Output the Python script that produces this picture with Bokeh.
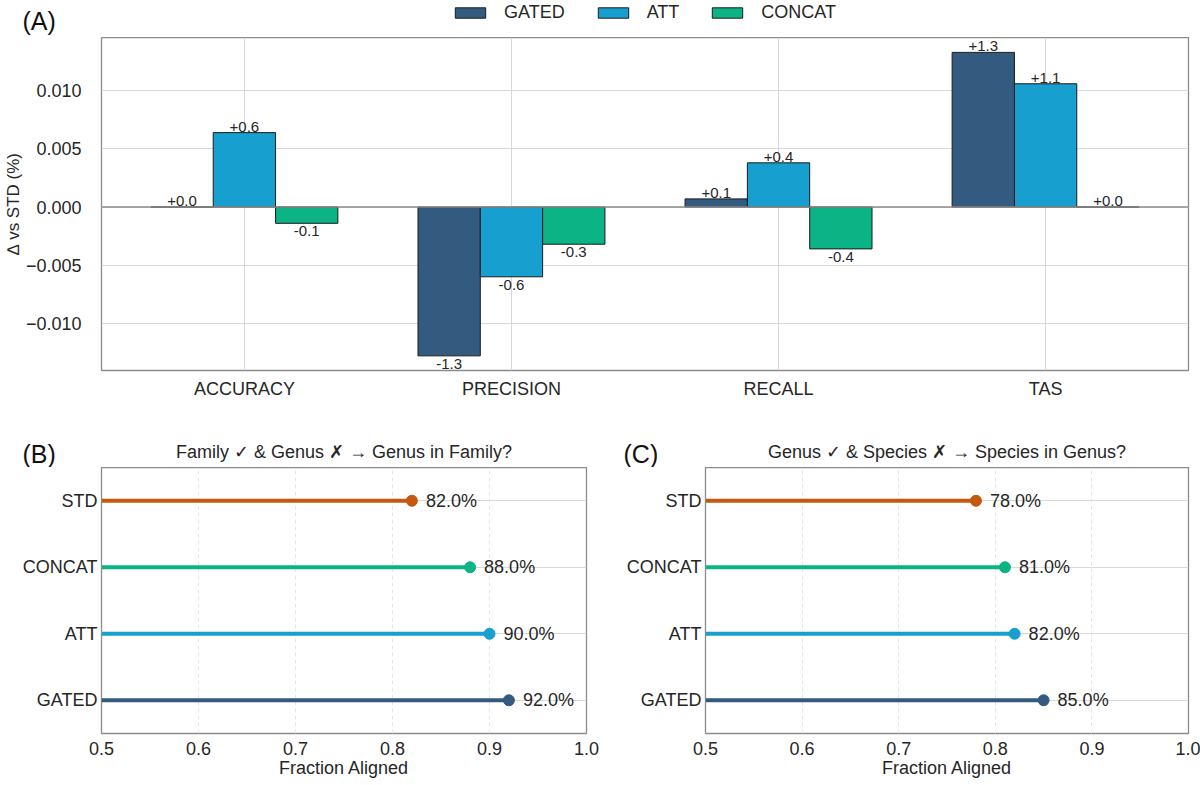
from bokeh.plotting import figure
from bokeh.models import (ColumnDataSource, FactorRange, Range1d, FixedTicker,
                          CustomJSTickFormatter, PrintfTickFormatter, Span,
                          Legend, LegendItem, Label)
from bokeh.core.properties import value
from bokeh.transform import dodge
from bokeh.layouts import column, row
from bokeh.embed import file_html
from bokeh.resources import INLINE

FONT = "Liberation Sans"
TEXT = "#262626"
FRAME = "#8c8c8c"
GRID = "#d9d9d9"

# ---- data -------------------------------------------------------------
metrics = ["ACCURACY", "PRECISION", "RECALL", "TAS"]
variants = ["GATED", "ATT", "CONCAT"]
delta_gated = [0.0000, -0.0128, 0.0007, 0.0133]
delta_att = [0.0064, -0.0060, 0.0038, 0.0106]
delta_concat = [-0.0014, -0.0032, -0.0036, 0.0000]
delta_ticks = [-0.010, -0.005, 0.0, 0.005, 0.010]

models = ["GATED", "ATT", "CONCAT", "STD"]          # bottom to top
family_aligned = [0.92, 0.90, 0.88, 0.82]
genus_aligned = [0.85, 0.82, 0.81, 0.78]
fraction_ticks = [0.5, 0.6, 0.7, 0.8, 0.9, 1.0]
fraction_floor = 0.5

colors = {"GATED": "#335b80", "ATT": "#169fcf",
          "CONCAT": "#0bb385", "STD": "#c4580e"}

TITLE_B = "Family \u2713 & Genus \u2717 \u2192 Genus in Family?"
TITLE_C = "Genus \u2713 & Species \u2717 \u2192 Species in Genus?"


def style_axes(p):
    p.outline_line_color = FRAME
    p.outline_line_width = 1.3
    for ax in (p.xaxis, p.yaxis):
        ax.axis_line_color = None
        ax.major_tick_line_color = None
        ax.minor_tick_line_color = None
        ax.major_tick_out = 0
        ax.major_label_text_font = FONT
        ax.major_label_text_font_size = "18px"
        ax.major_label_text_color = TEXT
        ax.axis_label_text_font = FONT
        ax.axis_label_text_font_style = "normal"
        ax.axis_label_text_color = TEXT


def header(height):
    """A bare strip (pixel coordinates, y downwards) for panel tags, titles, legend."""
    h = figure(width=1200, height=height, output_backend="svg", toolbar_location=None,
               x_range=Range1d(0, 1200), y_range=Range1d(height, 0),
               x_axis_type=None, y_axis_type=None,
               min_border_left=0, min_border_right=0,
               min_border_top=0, min_border_bottom=0)
    h.frame_align = False
    h.outline_line_color = None
    h.grid.visible = False
    return h


def put_text(h, x, y, text, size, align="left", color=TEXT):
    h.add_layout(Label(x=x, y=y, text=text, text_font=FONT, text_font_size=size,
                       text_color=color, text_align=align, text_baseline="middle"))


# ---- (A) grouped bars -------------------------------------------------
pA = figure(width=1200, height=383, output_backend="svg", toolbar_location=None,
            x_range=FactorRange(*metrics, range_padding=0.0175),
            y_range=Range1d(-0.01406, 0.01458),
            min_border_left=101, min_border_right=12,
            min_border_top=0, min_border_bottom=50)
style_axes(pA)
pA.xgrid.grid_line_color = GRID
pA.ygrid.grid_line_color = GRID
pA.yaxis.ticker = FixedTicker(ticks=delta_ticks)
pA.yaxis.formatter = CustomJSTickFormatter(
    code="return tick.toFixed(3).replace('-', '\u2212');")
pA.yaxis.major_label_standoff = 20
pA.xaxis.major_label_standoff = 8
pA.yaxis.axis_label = "\u2206 vs STD (%)"
pA.yaxis.axis_label_text_font_size = "17px"
pA.yaxis.axis_label_standoff = 0

bar_w = 0.7 / len(variants)
offsets = [-bar_w, 0.0, bar_w]
bar_sources = []
for name, vals, off in zip(variants, [delta_gated, delta_att, delta_concat], offsets):
    src = ColumnDataSource(dict(metric=metrics, value=vals))
    bar_sources.append(src)
    pA.vbar(x=dodge("metric", off, range=pA.x_range), top="value", bottom=0,
            width=bar_w, fill_color=colors[name], line_color="#1c1c1c",
            line_width=1, source=src)

    pos = [i for i, v in enumerate(vals) if v >= 0]
    neg = [i for i, v in enumerate(vals) if v < 0]
    for idx, base, dy in ((pos, "bottom", -1), (neg, "top", 3)):
        if not idx:
            continue
        lab = ColumnDataSource(dict(metric=[metrics[i] for i in idx],
                                    value=[vals[i] for i in idx],
                                    label=[f"{vals[i] * 100:+.1f}" for i in idx]))
        pA.text(x=dodge("metric", off, range=pA.x_range), y="value", text="label",
                source=lab, text_align="center", text_baseline=base, y_offset=dy,
                text_font=value(FONT), text_font_size="15px", text_color=TEXT)

pA.add_layout(Span(location=0, dimension="width", line_color=FRAME, line_width=1.3))

# ---- header of (A): tag and legend ------------------------------------
hA = header(37)
put_text(hA, 22, 20, "(A)", "25px", color="#111111")
items = []
for name, src in zip(variants, bar_sources):
    # legend swatches share the bar styling; the renderer itself stays hidden
    swatch = hA.vbar(x="metric", top="value", width=bar_w, source=src,
                     fill_color=colors[name], line_color="#1c1c1c", line_width=1,
                     visible=False)
    items.append(LegendItem(label=name, renderers=[swatch]))
hA.add_layout(Legend(items=items, orientation="horizontal", location=(451, 14),
                     glyph_width=38, glyph_height=13, label_standoff=15, spacing=29,
                     padding=0, margin=0, border_line_color=None,
                     background_fill_alpha=0, inactive_fill_alpha=0,
                     label_text_font=FONT, label_text_font_size="18px",
                     label_text_color=TEXT))

# ---- header of (B) and (C) --------------------------------------------
hBC = header(47)
put_text(hBC, 22, 33, "(B)", "25px", color="#111111")
put_text(hBC, 343.5, 31, TITLE_B, "18px", align="center")
put_text(hBC, 623, 33, "(C)", "25px", color="#111111")
put_text(hBC, 946.5, 31, TITLE_C, "18px", align="center")


# ---- (B), (C) lollipops ----------------------------------------------
def lollipop(values, width, left, right):
    p = figure(width=width, height=318, output_backend="svg", toolbar_location=None,
               y_range=FactorRange(*models), x_range=Range1d(0.5, 1.0),
               min_border_left=left, min_border_right=right,
               min_border_top=0, min_border_bottom=52)
    style_axes(p)
    p.ygrid.grid_line_color = GRID
    p.xgrid.grid_line_color = "#e6e6e6"
    p.xgrid.grid_line_dash = "4 3"
    p.xaxis.ticker = FixedTicker(ticks=fraction_ticks)
    p.xaxis.formatter = PrintfTickFormatter(format="%.1f")
    p.xaxis.major_label_standoff = 8
    p.xaxis.axis_label = "Fraction Aligned"
    p.xaxis.axis_label_text_font_size = "18px"
    p.xaxis.axis_label_standoff = 0
    p.yaxis.major_label_standoff = 4

    src = ColumnDataSource(dict(model=models, value=values,
                                start=[fraction_floor] * len(models),
                                color=[colors[m] for m in models],
                                label=[f"{v * 100:.1f}%" for v in values]))
    p.segment(x0="start", y0="model", x1="value", y1="model", line_color="color",
              line_width=4, source=src)
    p.scatter(x="value", y="model", size=11, fill_color="color", line_color="color",
              source=src)
    p.text(x="value", y="model", text="label", x_offset=14, text_baseline="middle",
           text_align="left", text_font=value(FONT), text_font_size="18px",
           text_color=TEXT, source=src)
    return p


pB = lollipop(family_aligned, 600, 101, 14)
pC = lollipop(genus_aligned, 600, 105, 12)

layout = column(hA, pA, hBC, row(pB, pC))
open("out.html", "w").write(file_html(layout, INLINE))
